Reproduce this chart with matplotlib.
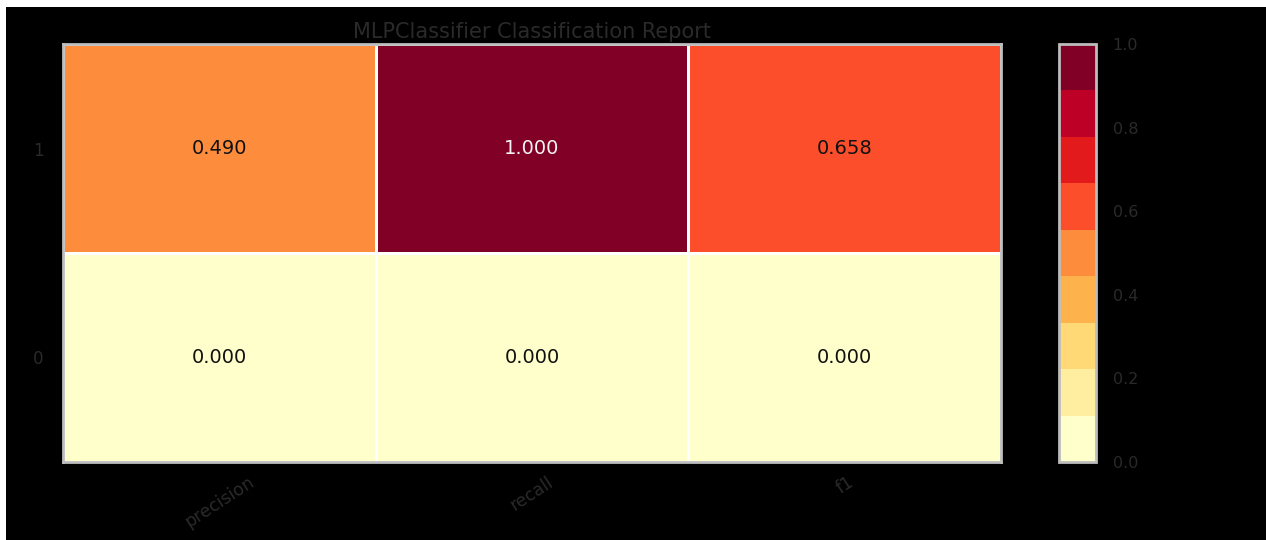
import numpy as np
import matplotlib
matplotlib.use("Agg")
import matplotlib.pyplot as plt
from matplotlib.colors import ListedColormap, BoundaryNorm
from matplotlib.patches import Rectangle

# Report data
classes = ["0", "1"]
metrics = ["precision", "recall", "f1"]
scores_class0 = [0.000, 0.000, 0.000]
scores_class1 = [0.490, 1.000, 0.658]

palette = ["#ffffcc", "#ffeda0", "#fed976", "#feb24c", "#fd8d3c",
           "#fc4e2a", "#e31a1c", "#bd0026", "#800026"]
cmap = ListedColormap(palette)
norm = BoundaryNorm(np.linspace(0, 1, len(palette) + 1), cmap.N)

text_gray = "#2a2a2a"
plt.rcParams["font.family"] = ["DejaVu Sans"]

fig = plt.figure(figsize=(12.66, 5.40), dpi=100, facecolor="black")
# thin white margin along top and left edges
fig.patches.append(Rectangle((0, 1 - 7 / 540), 1, 7 / 540, transform=fig.transFigure,
                             facecolor="white", edgecolor="none", zorder=-1))
fig.patches.append(Rectangle((0, 0), 6 / 1266, 1, transform=fig.transFigure,
                             facecolor="white", edgecolor="none", zorder=-1))

ax = fig.add_axes([63 / 1266, 1 - 462 / 540, (1001 - 63) / 1266, (462 - 44) / 540])
cax = fig.add_axes([1059 / 1266, 1 - 462 / 540, 37 / 1266, (462 - 44) / 540])

data = np.array([scores_class0, scores_class1])
mesh = ax.pcolormesh(np.arange(len(metrics) + 1), np.arange(len(classes) + 1), data,
                     cmap=cmap, norm=norm, edgecolors="white", linewidth=2)

for r in range(len(classes)):
    for c in range(len(metrics)):
        v = data[r, c]
        ax.text(c + 0.5, r + 0.5, f"{v:.3f}", ha="center", va="center",
                fontsize=14, color="#f5f5f5" if v > 0.9 else "#111111")

ax.set_xlim(0, len(metrics))
ax.set_ylim(0, len(classes))
ax.set_xticks(np.arange(len(metrics)) + 0.5)
ax.set_xticklabels(metrics, rotation=33, fontsize=12.5, color=text_gray)
ax.set_yticks(np.arange(len(classes)) + 0.5)
ax.set_yticklabels(classes, fontsize=12, color=text_gray)
ax.tick_params(axis="x", length=0, pad=8)
ax.tick_params(axis="y", length=0, pad=14)
for s in ax.spines.values():
    s.set_color("#bdbdbd")
    s.set_linewidth(2)
ax.set_title("MLPClassifier Classification Report", fontsize=15, color=text_gray, pad=4)

cb = fig.colorbar(mesh, cax=cax, ticks=[0, 0.2, 0.4, 0.6, 0.8, 1.0])
cb.ax.set_yticklabels(["0.0", "0.2", "0.4", "0.6", "0.8", "1.0"])
cb.ax.tick_params(length=0, labelsize=11.5, labelcolor=text_gray, pad=12)
cb.outline.set_edgecolor("#bdbdbd")
cb.outline.set_linewidth(2)

fig.savefig("out.png", dpi=100, facecolor="black")
